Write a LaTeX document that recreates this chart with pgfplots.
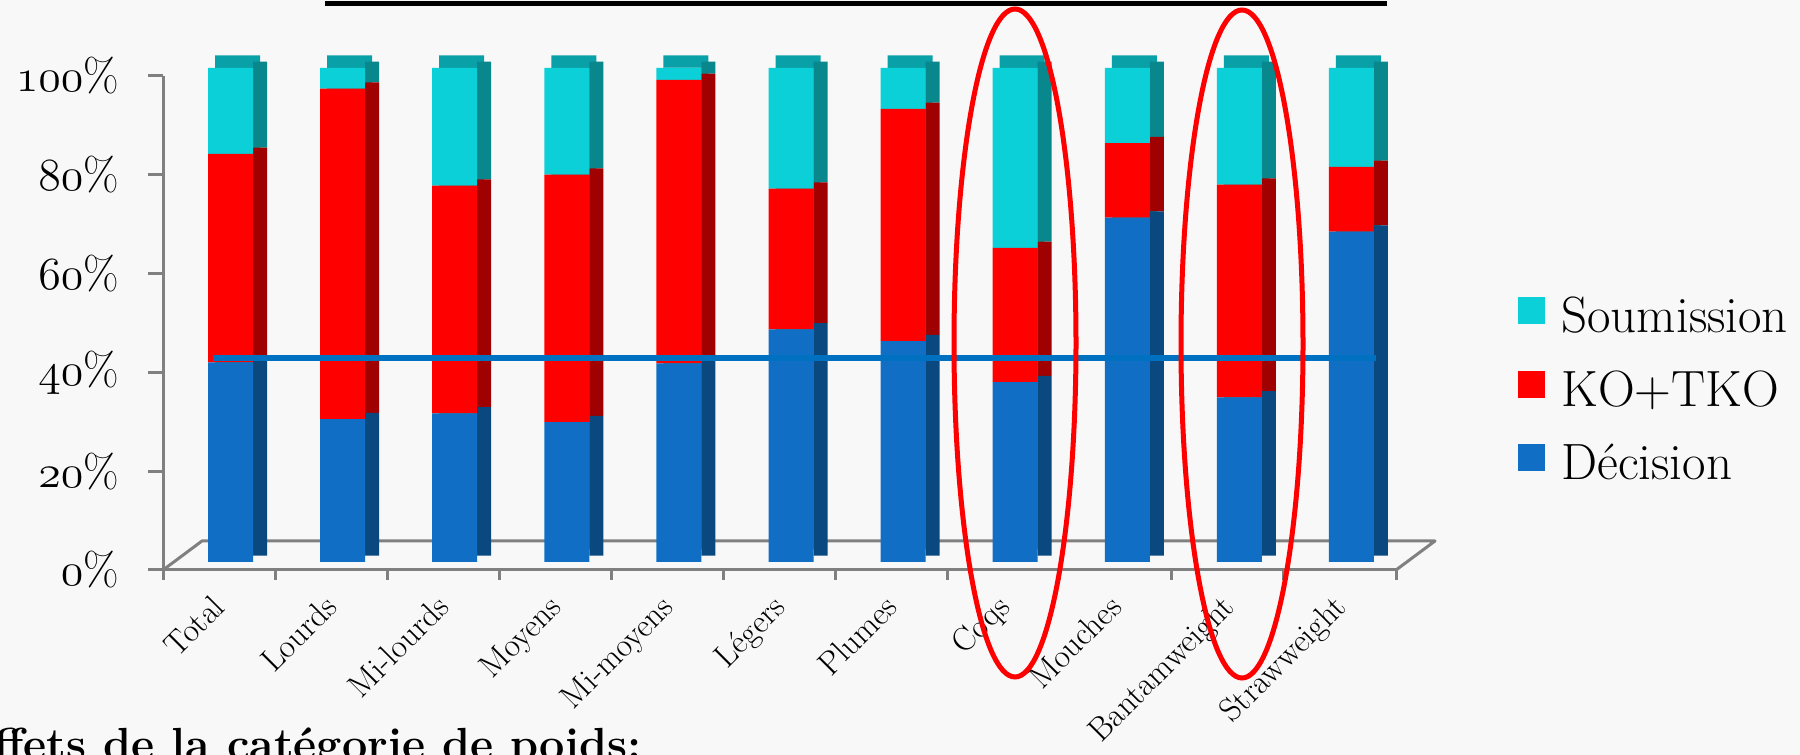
\RequirePackage{fix-cm}
\documentclass[border=0pt]{standalone}
\usepackage{pgfplots}
\usepackage{pgfplotstable}
\pgfplotsset{compat=1.18}

\definecolor{bFront}{HTML}{106EC4}
\definecolor{bSide}{HTML}{0A4880}
\definecolor{rFront}{HTML}{FF0000}
\definecolor{rSide}{HTML}{A00000}
\definecolor{cFront}{HTML}{0CD0D8}
\definecolor{cSide}{HTML}{08888C}
\definecolor{cTop}{HTML}{0AA0A8}
\definecolor{lineBlue}{HTML}{0070C0}
\definecolor{axisGray}{HTML}{808080}
\definecolor{bgGray}{HTML}{F8F8F8}

\newcommand\osf[1]{{\usefont{OML}{cmm}{m}{it}#1}}

\pgfplotstableread{
x D K S
0 40.4 42.2 17.4
1 28.9 66.9 4.2
2 30.1 46.1 23.8
3 28.3 50.1 21.6
4 40.2 57.4 2.4
5 47.1 28.5 24.4
6 44.7 47.0 8.3
7 36.4 27.2 36.4
8 69.7 15.1 15.2
9 33.3 43.1 23.6
10 66.9 13.1 20.0
}\datatable

\pgfplotsset{
  base/.style={scale only axis, width=616.5pt, height=247pt,
    xmin=-0.5, xmax=10.5, ymin=0, ymax=100, anchor=south west},
  bars/.style={base, hide axis, clip=false, ybar stacked},
}

\begin{document}
\begin{tikzpicture}
\useasboundingbox (0,0) rectangle (900pt,377.5pt);
\clip (0,0) rectangle (900pt,377.5pt);
\fill[bgGray] (0,0) rectangle (900pt,377.5pt);

% y frame
\begin{axis}[base, at={(81.5pt,92.5pt)},
  axis y line*=left, axis x line=none,
  axis line style={axisGray, line width=1.5pt, -},
  ytick={0,20,40,60,80,100},
  yticklabels={\osf{0}\%,\osf{20}\%,\osf{40}\%,\osf{60}\%,\osf{80}\%,\osf{100}\%},
  yticklabel style={font=\fontsize{23}{26}\selectfont, xshift=-11pt},
  tick align=outside, major tick length=7.5pt,
  tick style={axisGray, line width=1.5pt},
]
\end{axis}

% x frame
\begin{axis}[base, at={(81.5pt,92.5pt)},
  axis x line*=bottom, axis y line=none,
  axis line style={axisGray, line width=1.5pt, -},
  xtick={-0.5,0.5,...,10.5}, xticklabels={},
  extra x ticks={0,1,...,10},
  extra x tick labels={Total,Lourds,Mi-lourds,Moyens,Mi-moyens,Légers,Plumes,Coqs,Mouches,Bantamweight,Strawweight},
  extra x tick style={major tick length=0pt,
    xticklabel style={font=\fontsize{16.5}{18}\selectfont, inner sep=0pt, xshift=4pt, yshift=-19.5pt, rotate=45, anchor=base east}},
  tick align=outside, major tick length=5pt,
  tick style={axisGray, line width=1.5pt},
]
\end{axis}

% floor
\draw[axisGray, line width=1.5pt, line join=round] (81.5pt,92.5pt) -- (101pt,107pt) -- (717.5pt,107pt) -- (698pt,92.5pt);

% top faces
\begin{axis}[bars, at={(87.25pt,102.75pt)}, bar width=22.5pt, bar shift=3.5pt]
\addplot[fill=cTop, draw=none] table[x=x, y=D] {\datatable};
\addplot[fill=cTop, draw=none] table[x=x, y=K] {\datatable};
\addplot[fill=cTop, draw=none] table[x=x, y=S] {\datatable};
\end{axis}

% side faces
\begin{axis}[bars, at={(87.25pt,99.625pt)}, bar width=7pt, bar shift=14.75pt]
\addplot[fill=bSide, draw=none] table[x=x, y=D] {\datatable};
\addplot[fill=rSide, draw=none] table[x=x, y=K] {\datatable};
\addplot[fill=cSide, draw=none] table[x=x, y=S] {\datatable};
\end{axis}

% front faces
\begin{axis}[bars, at={(87.25pt,96.5pt)}, bar width=22.5pt, bar shift=0pt,
  legend cell align=left, reverse legend,
  legend style={at={(1.0896,0.3485)}, anchor=west, draw=none, fill=none,
    inner sep=0pt, font=\fontsize{25.5}{30}\selectfont, row sep=13.5pt,
    column sep=6pt},
  legend image code/.code={\path[#1] (0pt,-4pt) rectangle (13.5pt,9.5pt);},
]
\addplot[fill=bFront, draw=none] table[x=x, y=D] {\datatable};
\addlegendentry{Décision}
\addplot[fill=rFront, draw=none] table[x=x, y=K] {\datatable};
\addlegendentry{KO+TKO}
\addplot[fill=cFront, draw=none] table[x=x, y=S] {\datatable};
\addlegendentry{Soumission}
\end{axis}

% average line
\begin{axis}[base, hide axis, clip=false, at={(87.25pt,96.5pt)}]
\addplot[lineBlue, line width=3pt] coordinates {(-0.16,41.2) (10.22,41.2)};
\end{axis}

% annotations
\draw[rFront, line width=2.5pt] (507.5pt,206pt) ellipse [x radius=30.5pt, y radius=167pt];
\draw[rFront, line width=2.5pt] (621pt,205.5pt) ellipse [x radius=30.5pt, y radius=167pt];
\draw[black, line width=2.5pt] (162.5pt,375.5pt) -- (693.5pt,375.5pt);
\node[anchor=base east, inner sep=0pt, font=\bfseries\fontsize{22.5}{26}\selectfont] at (321pt,-2.5pt) {Effets de la catégorie de poids:};
\end{tikzpicture}
\end{document}
